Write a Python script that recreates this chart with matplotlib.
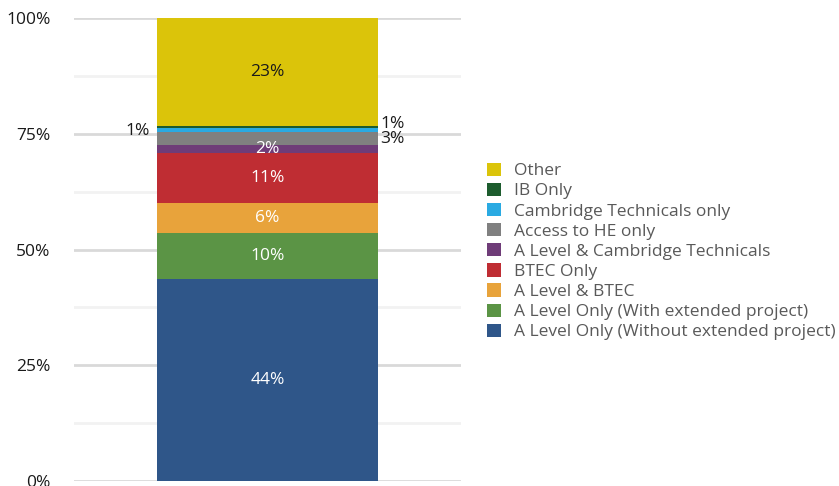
import matplotlib.pyplot as plt
from matplotlib.patches import Patch

plt.rcParams['font.family'] = ['Open Sans', 'DejaVu Sans']

# qualification mix, bottom to top of the stack
categories = ['A Level Only (Without extended project)',
              'A Level Only (With extended project)',
              'A Level & BTEC',
              'BTEC Only',
              'A Level & Cambridge Technicals',
              'Access to HE only',
              'Cambridge Technicals only',
              'IB Only',
              'Other']
shares = [43.6, 10.0, 6.4, 10.8, 1.7, 3.0, 0.7, 0.6, 23.2]
colors = ['#2F5689', '#5B9445', '#E8A33B', '#BF2D33', '#6F3C78',
          '#808080', '#2AAAE2', '#1D5C2E', '#DBC40A']
# where each value label goes: inside the bar, or out to the left/right
label_side = ['in', 'in', 'in', 'in', 'in', 'right', 'left', 'right', 'in']
label_dark = ['Other']

yticks = [0, 25, 50, 75, 100]
ytick_labels = ['0%', '25%', '50%', '75%', '100%']

fs = 12.5

fig = plt.figure(figsize=(8.39, 4.86), dpi=100)
ax = fig.add_axes([0.0882, 0.0109, 0.4613, 0.9514])

bar_w = 0.571
bottom = 0
for name, v, c, side in zip(categories, shares, colors, label_side):
    ax.bar(0, v, width=bar_w, bottom=bottom, color=c, zorder=3)
    mid = bottom + v / 2
    txt = '{:.0f}%'.format(v)
    if side == 'in':
        col = '#1a1a1a' if name in label_dark else 'white'
        ax.text(0, mid, txt, ha='center', va='center', color=col,
                fontsize=fs, zorder=4)
    elif side == 'right':
        dy = 2.5 if name == 'IB Only' else 0
        ax.annotate(txt, (bar_w / 2, mid), xytext=(1.5, dy), textcoords='offset points',
                    ha='left', va='center', color='#1a1a1a', fontsize=fs)
    else:
        ax.annotate(txt, (-bar_w / 2, mid), xytext=(-5, -0.5), textcoords='offset points',
                    ha='right', va='center', color='#1a1a1a', fontsize=fs)
    bottom += v

ax.set_xlim(-0.5, 0.5)
ax.set_ylim(0, 100)
ax.set_yticks(yticks)
ax.set_yticklabels(ytick_labels)
ax.set_yticks([12.5, 37.5, 62.5, 87.5], minor=True)
ax.set_xticks([])
ax.tick_params(axis='y', which='both', length=0, pad=17, labelsize=fs,
               labelcolor='#1a1a1a')
ax.grid(axis='y', which='major', color='#d9d9d9', linewidth=2, zorder=0)
ax.grid(axis='y', which='minor', color='#f2f2f2', linewidth=2, zorder=0)
for s in ax.spines.values():
    s.set_visible(False)

handles = [Patch(facecolor=c, label=n) for n, c in zip(categories, colors)][::-1]
fig.legend(handles=handles, loc='center left', bbox_to_anchor=(0.5805, 0.4826),
           frameon=False, fontsize=fs, labelcolor='#595959',
           handlelength=0.8, handleheight=0.8, handletextpad=0.75,
           labelspacing=0.2, borderpad=0, borderaxespad=0)

fig.savefig('out.png', dpi=100)
